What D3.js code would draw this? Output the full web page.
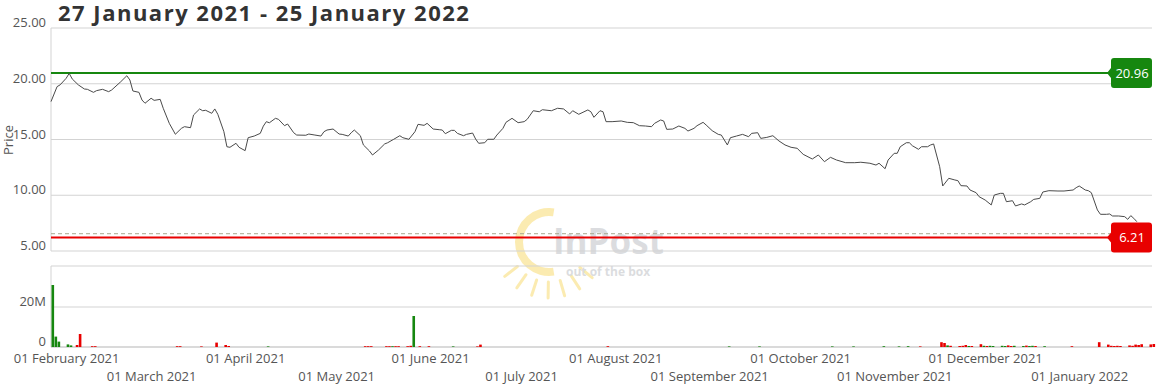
<!DOCTYPE html>
<html>
<head>
  <meta charset="utf-8">
  <title>InPost price</title>
  <script src="https://d3js.org/d3.v7.min.js"></script>
  <style>
    body {
      margin: 0;
      padding: 0;
      background: #fff;
      font-family: "Open Sans", sans-serif;
    }
    .tick-label {
      font-size: 13px;
      fill: #555;
    }
  </style>
</head>
<body>
  <div id="chart"></div>
  <script>
    // price series
    var priceDates = [
      "2021-01-27","2021-01-29","2021-01-30","2021-02-01","2021-02-02","2021-02-03","2021-02-05","2021-02-07","2021-02-08","2021-02-10","2021-02-11","2021-02-13","2021-02-15","2021-02-16","2021-02-19","2021-02-21","2021-02-22","2021-02-23","2021-02-25","2021-02-26","2021-02-27",
      "2021-03-01","2021-03-02","2021-03-04","2021-03-05","2021-03-07","2021-03-09","2021-03-11","2021-03-12","2021-03-14","2021-03-15","2021-03-17","2021-03-18","2021-03-19","2021-03-21","2021-03-22","2021-03-23","2021-03-25","2021-03-26","2021-03-27","2021-03-29","2021-03-30",
      "2021-04-01","2021-04-02","2021-04-04","2021-04-06","2021-04-07","2021-04-08","2021-04-09","2021-04-11","2021-04-12","2021-04-14","2021-04-15","2021-04-17","2021-04-18","2021-04-21","2021-04-22","2021-04-24","2021-04-26","2021-04-27","2021-04-28","2021-04-30",
      "2021-05-02","2021-05-03","2021-05-05","2021-05-06","2021-05-07","2021-05-09","2021-05-10","2021-05-12","2021-05-13","2021-05-15","2021-05-17","2021-05-18","2021-05-20","2021-05-22","2021-05-23","2021-05-25","2021-05-27","2021-05-28","2021-05-30","2021-05-31",
      "2021-06-02","2021-06-04","2021-06-05","2021-06-06","2021-06-08","2021-06-09","2021-06-10","2021-06-12","2021-06-13","2021-06-15","2021-06-16","2021-06-17","2021-06-19","2021-06-20","2021-06-22","2021-06-23","2021-06-25","2021-06-26","2021-06-28","2021-06-30",
      "2021-07-02","2021-07-03","2021-07-05","2021-07-07","2021-07-08","2021-07-11","2021-07-13","2021-07-15","2021-07-17","2021-07-18","2021-07-20","2021-07-23","2021-07-24","2021-07-25","2021-07-27","2021-07-28","2021-07-29","2021-07-31",
      "2021-08-03","2021-08-05","2021-08-07","2021-08-09","2021-08-11","2021-08-13","2021-08-14","2021-08-16","2021-08-17","2021-08-18","2021-08-20","2021-08-22","2021-08-24","2021-08-25","2021-08-27","2021-08-28","2021-08-30","2021-08-31",
      "2021-09-02","2021-09-04","2021-09-05","2021-09-07","2021-09-08","2021-09-10","2021-09-12","2021-09-14","2021-09-15","2021-09-17","2021-09-18","2021-09-20","2021-09-22","2021-09-24","2021-09-26","2021-09-28","2021-09-30",
      "2021-10-02","2021-10-05","2021-10-07","2021-10-09","2021-10-11","2021-10-13","2021-10-16","2021-10-19","2021-10-21","2021-10-24","2021-10-26","2021-10-27","2021-10-29","2021-10-30",
      "2021-11-01","2021-11-02","2021-11-03","2021-11-05","2021-11-06","2021-11-07","2021-11-09","2021-11-10","2021-11-12","2021-11-13","2021-11-14","2021-11-16","2021-11-17","2021-11-19","2021-11-21","2021-11-22","2021-11-23","2021-11-25","2021-11-26","2021-11-28","2021-11-29",
      "2021-12-01","2021-12-03","2021-12-04","2021-12-06","2021-12-07","2021-12-08","2021-12-10","2021-12-11","2021-12-13","2021-12-14","2021-12-16","2021-12-17","2021-12-19","2021-12-20","2021-12-22","2021-12-25","2021-12-27","2021-12-30","2021-12-31",
      "2022-01-01","2022-01-03","2022-01-04","2022-01-05","2022-01-07","2022-01-08","2022-01-10","2022-01-11","2022-01-12","2022-01-14","2022-01-16","2022-01-17","2022-01-18","2022-01-19","2022-01-20"
    ];
    var priceValues = [
      18.4,19.74,19.9,20.49,20.93,20.43,19.9,19.53,19.5,19.23,19.38,19.5,19.29,19.44,20.18,20.72,20.34,19.35,19.23,18.54,18.25,
      18.7,18.51,18.6,17.8,16.45,15.47,16.0,16.15,16.06,17.2,17.74,17.58,17.62,17.35,17.74,17.26,15.7,14.35,14.3,14.66,14.3,
      14.0,15.16,15.31,15.55,16.2,16.6,16.5,16.9,16.81,16.24,16.39,15.61,15.4,15.38,15.49,15.4,15.31,15.7,15.85,15.94,
      15.49,15.46,15.31,15.61,15.85,15.34,14.51,13.97,13.61,14.06,14.6,14.71,15.02,15.34,15.16,15.02,15.7,16.36,16.27,16.45,
      15.94,15.88,15.85,15.52,15.82,15.82,15.55,15.34,15.46,15.58,15.04,14.66,14.71,15.02,15.02,15.4,16.0,16.54,16.9,16.51,
      16.6,16.81,17.58,17.49,17.67,17.58,17.8,17.74,17.29,17.58,17.26,17.65,17.49,16.99,17.58,17.49,16.6,16.6,
      16.66,16.54,16.51,16.24,16.21,16.15,16.45,16.75,16.66,15.91,15.94,16.21,16.0,15.76,16.0,16.24,16.54,16.3,
      15.79,15.46,15.4,14.51,15.16,15.31,15.46,15.25,15.55,15.61,15.1,15.19,15.34,14.87,14.51,14.3,14.21,
      13.67,13.25,13.61,13.01,13.4,13.16,12.92,12.92,12.96,12.87,12.71,12.87,12.38,13.16,
      13.76,13.76,14.35,14.71,14.71,14.44,14.12,14.35,14.35,14.51,14.6,12.56,10.83,11.52,11.37,11.31,10.86,10.83,10.47,10.23,9.87,
      9.57,9.13,10.02,10.17,10.17,9.42,9.51,9.04,9.22,9.13,9.42,9.63,9.72,10.29,10.41,10.38,10.38,10.47,10.68,
      10.83,10.47,10.41,10.23,8.68,8.29,8.29,8.32,8.14,8.14,8.08,7.84,8.17,7.93,7.63
    ];

    // volume (millions of shares), direction of the session
    var volDates = [
      "2021-01-27","2021-01-28","2021-01-29","2021-02-01","2021-02-02","2021-02-04","2021-02-05","2021-02-09","2021-02-10",
      "2021-03-09","2021-03-10","2021-03-17","2021-03-22","2021-03-25","2021-03-26","2021-04-08",
      "2021-05-10","2021-05-11","2021-05-12","2021-05-17","2021-05-18","2021-05-19","2021-05-20","2021-05-21","2021-05-24","2021-05-25","2021-05-26","2021-05-28","2021-05-31",
      "2021-06-08","2021-06-16","2021-06-17","2021-07-29","2021-09-07","2021-09-17","2021-10-11","2021-10-18","2021-10-28","2021-11-02","2021-11-05","2021-11-09",
      "2021-11-16","2021-11-17","2021-11-18","2021-11-19","2021-11-22","2021-11-23","2021-11-24","2021-11-25","2021-11-26","2021-11-29","2021-11-30",
      "2021-12-01","2021-12-02","2021-12-03","2021-12-06","2021-12-07","2021-12-08","2021-12-09","2021-12-10","2021-12-13","2021-12-14","2021-12-15","2021-12-16","2021-12-17","2021-12-20","2021-12-29",
      "2022-01-07","2022-01-10","2022-01-11","2022-01-12","2022-01-13","2022-01-14","2022-01-17","2022-01-18","2022-01-19","2022-01-20","2022-01-21","2022-01-24","2022-01-25"
    ];
    var volValues = [
      31,5.2,2.7,1.3,0.8,1.0,6.5,0.4,0.4,
      0.4,0.4,0.3,2.2,1.0,0.5,0.3,
      0.4,0.4,0.4,0.4,0.4,0.4,0.4,0.4,0.4,0.6,15.5,0.4,0.4,
      0.3,0.3,1.2,0.4,0.3,0.3,0.3,0.3,0.4,0.3,0.4,0.3,
      2.4,2.0,0.8,0.6,0.5,0.6,1.0,0.5,0.5,1.4,0.6,
      0.5,0.6,0.5,0.6,0.5,0.8,0.5,0.6,0.5,0.7,0.5,0.6,0.5,0.4,0.4,
      2.4,1.2,0.6,0.5,0.6,0.5,0.8,0.6,1.2,1.0,1.4,1.3,1.5
    ];
    var volDir = [
      "up","up","up","up","up","down","down","down","down",
      "down","down","down","down","down","down","up",
      "down","down","down","down","down","up","down","down","down","down","up","down","down",
      "up","down","down","down","up","up","up","up","up","up","up","down",
      "down","down","up","down","down","down","down","up","down","down","up",
      "down","up","up","up","up","down","down","up","up","down","up","up","down","up","down",
      "down","down","down","down","down","down","down","down","down","down","down","down","down"
    ];

    var maxPrice = 20.96, minPrice = 6.21, refPrice = 6.55;
    var priceTicks = [5, 10, 15, 20, 25];
    var volTicks = [0, 20];
    var titleText = "27 January 2021 - 25 January 2022";

    var width = 1159, height = 385;
    var left = 51, right = 1152;
    var parse = d3.timeParse("%Y-%m-%d");

    var svg = d3.select("#chart").append("svg")
      .attr("width", width)
      .attr("height", height);

    var x = d3.scaleTime()
      .domain([parse("2021-01-27"), parse("2022-01-25")])
      .range([left, right]);
    var y = d3.scaleLinear().domain([5, 25]).range([251, 28]);
    var yv = d3.scaleLinear().domain([0, 40.5]).range([347, 266]);

    // title
    svg.append("text")
      .attr("x", 58).attr("y", 21)
      .style("font-size", "22px").style("font-weight", 700)
      .style("letter-spacing", "1.5px")
      .attr("fill", "#333")
      .text(titleText);

    // watermark
    var wm = svg.append("g").attr("opacity", 0.3);
    var cx = 549, cy = 242;
    wm.append("path")
      .attr("d", d3.arc().innerRadius(26).outerRadius(34).startAngle(Math.PI * 0.95).endAngle(Math.PI * 2.05))
      .attr("transform", "translate(" + cx + "," + cy + ")")
      .attr("fill", "#f5c000");
    d3.range(7).forEach(function(i) {
      var a = Math.PI * (0.72 + i * 0.095);
      wm.append("line")
        .attr("x1", cx - 40 * Math.sin(a + Math.PI)).attr("y1", cy + 40 * Math.cos(a + Math.PI))
        .attr("x2", cx - 56 * Math.sin(a + Math.PI)).attr("y2", cy + 56 * Math.cos(a + Math.PI))
        .attr("stroke", "#f5c000").attr("stroke-width", 3).attr("stroke-linecap", "round");
    });
    wm.append("text").attr("x", 553).attr("y", 254)
      .style("font-size", "35px").style("font-weight", 700)
      .attr("fill", "#8a8f96").text("InPost");
    wm.append("text").attr("x", 566).attr("y", 276)
      .style("font-size", "12px").style("font-weight", 700)
      .attr("fill", "#8a8f96").text("out of the box");

    // price panel grid
    svg.append("g").selectAll("line")
      .data(priceTicks)
      .enter().append("line")
        .attr("x1", left).attr("x2", right)
        .attr("y1", function(d) { return y(d); })
        .attr("y2", function(d) { return y(d); })
        .attr("stroke", "#d3d3d3");
    svg.append("line")
      .attr("x1", left).attr("x2", left).attr("y1", y(25)).attr("y2", y(5))
      .attr("stroke", "#d3d3d3");

    svg.append("g").selectAll("text")
      .data(priceTicks)
      .enter().append("text")
        .attr("class", "tick-label")
        .attr("x", 46).attr("y", function(d) { return y(d) - 1; })
        .attr("text-anchor", "end")
        .text(d3.format(".2f"));

    svg.append("text")
      .attr("class", "tick-label")
      .attr("transform", "translate(13,140) rotate(-90)")
      .attr("text-anchor", "middle")
      .text("Price");

    // volume panel grid
    svg.append("g").selectAll("line")
      .data([0, 20, 40.5])
      .enter().append("line")
        .attr("x1", left).attr("x2", right)
        .attr("y1", function(d) { return yv(d); })
        .attr("y2", function(d) { return yv(d); })
        .attr("stroke", function(d) { return d === 0 ? "#b5b5b5" : "#d3d3d3"; });
    svg.append("line")
      .attr("x1", left).attr("x2", left).attr("y1", yv(40.5)).attr("y2", yv(0))
      .attr("stroke", "#d3d3d3");

    svg.append("g").selectAll("text")
      .data(volTicks)
      .enter().append("text")
        .attr("class", "tick-label")
        .attr("x", 46).attr("y", function(d) { return yv(d) - 1; })
        .attr("text-anchor", "end")
        .text(function(d) { return d === 0 ? "0" : d + "M"; });

    // reference lines
    svg.append("line")
      .attr("x1", left).attr("x2", right - 42)
      .attr("y1", y(refPrice)).attr("y2", y(refPrice))
      .attr("stroke", "#a8a890").attr("stroke-dasharray", "4,3");
    svg.append("line")
      .attr("x1", left).attr("x2", right - 42)
      .attr("y1", y(maxPrice)).attr("y2", y(maxPrice))
      .attr("stroke", "#16870f").attr("stroke-width", 2);
    svg.append("line")
      .attr("x1", left).attr("x2", right - 42)
      .attr("y1", y(minPrice)).attr("y2", y(minPrice))
      .attr("stroke", "#e80000").attr("stroke-width", 2);

    // price line
    var data = priceDates.map(function(d, i) { return { date: parse(d), value: priceValues[i] }; });
    svg.append("path")
      .datum(data)
      .attr("fill", "none")
      .attr("stroke", "#4a4a4a")
      .attr("stroke-width", 1)
      .attr("d", d3.line()
        .x(function(d) { return x(d.date); })
        .y(function(d) { return y(d.value); }));

    // volume bars
    svg.append("g").selectAll("rect")
      .data(volDates)
      .enter().append("rect")
        .attr("x", function(d) { return x(parse(d)) + 0.5; })
        .attr("width", 2.6)
        .attr("y", function(d, i) { return yv(volValues[i]); })
        .attr("height", function(d, i) { return yv(0) - yv(volValues[i]); })
        .attr("fill", function(d, i) { return volDir[i] === "up" ? "#16870f" : "#e80000"; });

    // price flags on the right
    function flag(value, color) {
      var cyf = y(value);
      var g = svg.append("g");
      g.append("path")
        .attr("d", "M" + (right - 45) + "," + cyf +
          " L" + (right - 41) + "," + (cyf - 5) +
          " L" + (right - 41) + "," + (cyf - 12) +
          " Q" + (right - 41) + "," + (cyf - 15) + " " + (right - 38) + "," + (cyf - 15) +
          " L" + (right - 3) + "," + (cyf - 15) +
          " Q" + right + "," + (cyf - 15) + " " + right + "," + (cyf - 12) +
          " L" + right + "," + (cyf + 12) +
          " Q" + right + "," + (cyf + 15) + " " + (right - 3) + "," + (cyf + 15) +
          " L" + (right - 38) + "," + (cyf + 15) +
          " Q" + (right - 41) + "," + (cyf + 15) + " " + (right - 41) + "," + (cyf + 12) +
          " L" + (right - 41) + "," + (cyf + 5) + " Z")
        .attr("fill", color);
      g.append("text")
        .attr("x", right - 20).attr("y", cyf + 4.5)
        .attr("text-anchor", "middle")
        .attr("fill", "#fff")
        .style("font-size", "13px")
        .text(value.toFixed(2));
    }
    flag(maxPrice, "#16870f");
    flag(minPrice, "#e80000");

    // x axis with alternating rows
    var months = d3.timeMonth.range(parse("2021-02-01"), parse("2022-01-26"));
    var xAxis = svg.append("g")
      .attr("transform", "translate(0," + yv(0) + ")")
      .call(d3.axisBottom(x).tickValues(months).tickSize(0).tickFormat(d3.timeFormat("%d %B %Y")));
    xAxis.select(".domain").remove();
    xAxis.selectAll("text")
      .attr("class", "tick-label")
      .attr("dy", 0)
      .attr("y", function(d, i) { return i % 2 ? 34 : 16; })
      .style("font-family", "Open Sans");
  </script>
</body>
</html>
